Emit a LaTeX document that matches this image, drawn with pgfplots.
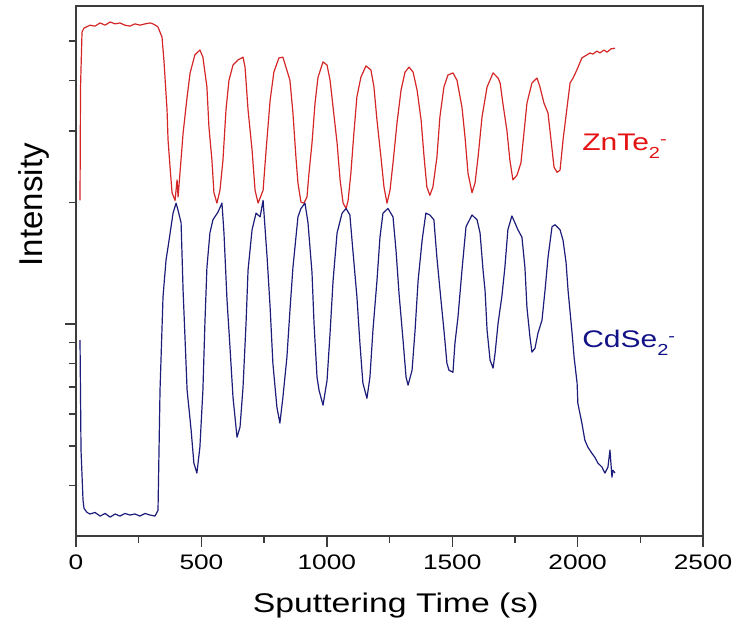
\documentclass[border=0pt]{standalone}
\usepackage{pgfplots}
\pgfplotsset{compat=1.18}
\usepackage{pgfplotstable}
\usepackage{fontspec}
\setmainfont{Liberation Sans}[FakeStretch=1.25]
\newfontfamily\plainsans{Liberation Sans}

\definecolor{znte}{RGB}{212,38,38}
\definecolor{zntetext}{RGB}{228,18,18}
\definecolor{cdse}{RGB}{28,28,122}
\definecolor{cdsetext}{RGB}{18,18,135}
\definecolor{axisgray}{RGB}{60,60,60}

% ion label: subscript 2 followed by the charge
\newcommand{\ion}[1]{#1\raisebox{-4pt}{\fontsize{8}{8}\selectfont 2}\raisebox{3pt}{\fontsize{8}{8}\selectfont -}}

% ZnTe2- signal, time (s) vs intensity (arb., log)
\pgfplotstableread{
t I
16 2.02
18 3.83
24 5.26
32 5.38
40 5.41
56 5.47
76 5.44
96 5.54
116 5.47
136 5.57
156 5.51
175 5.54
195 5.47
215 5.44
235 5.51
255 5.47
275 5.51
295 5.54
307 5.51
323 5.44
327 5.41
343 5.11
351 4.44
363 3.38
367 2.85
375 2.44
383 2.11
395 2.02
403 2.27
407 2.06
427 2.96
443 3.64
455 4.17
474 4.62
494 4.75
506 4.56
522 3.85
530 3.07
542 2.54
550 2.11
562 1.99
574 2.14
586 2.54
598 3.38
610 4.00
626 4.36
646 4.49
666 4.56
674 4.31
686 3.38
702 2.69
714 2.14
726 1.99
746 2.14
758 2.69
774 3.57
789 4.19
809 4.54
825 4.56
853 4.00
865 3.32
877 2.58
885 2.23
897 2.00
909 1.99
921 2.06
929 2.36
941 2.80
953 3.51
965 4.07
985 4.44
1001 4.36
1013 4.00
1025 3.43
1041 2.80
1053 2.27
1065 1.99
1077 1.93
1085 2.02
1096 2.36
1108 2.96
1120 3.64
1136 4.07
1156 4.34
1176 4.24
1188 3.85
1200 3.19
1216 2.58
1228 2.18
1240 1.99
1252 2.14
1264 2.50
1280 3.14
1296 3.78
1312 4.19
1328 4.31
1344 4.19
1360 3.78
1376 3.19
1388 2.58
1399 2.18
1411 2.08
1423 2.18
1439 2.58
1451 3.25
1467 3.85
1483 4.12
1503 4.17
1519 4.00
1539 3.43
1551 2.90
1563 2.36
1579 2.11
1591 2.23
1603 2.58
1619 3.25
1639 3.85
1663 4.17
1683 4.05
1691 3.94
1702 3.51
1718 3.01
1730 2.54
1742 2.27
1758 2.33
1774 2.50
1786 2.96
1798 3.51
1818 3.94
1838 4.05
1850 3.85
1866 3.51
1882 3.32
1894 2.85
1906 2.44
1918 2.37
1930 2.40
1942 2.85
1958 3.43
1970 3.94
1982 4.05
1997 4.24
2017 4.54
2037 4.62
2049 4.67
2061 4.64
2077 4.72
2089 4.67
2105 4.75
2117 4.69
2133 4.78
2149 4.80
}\zntedata

% CdSe2- signal
\pgfplotstableread{
t I
16 0.913
20 0.489
28 0.368
32 0.351
44 0.343
56 0.340
76 0.343
96 0.336
116 0.341
136 0.334
156 0.340
175 0.336
195 0.341
215 0.338
235 0.340
255 0.336
275 0.341
295 0.338
315 0.336
327 0.347
335 0.687
347 1.17
359 1.44
371 1.61
387 1.88
399 1.99
407 1.91
419 1.78
427 1.21
435 0.913
443 0.687
459 0.548
470 0.454
482 0.429
494 0.497
506 0.687
514 1.006
522 1.38
534 1.68
546 1.81
566 1.89
582 1.99
590 1.68
602 1.15
614 0.877
626 0.660
642 0.526
654 0.557
666 0.699
678 1.006
686 1.36
702 1.71
718 1.88
734 1.84
746 2.02
762 1.46
774 1.10
785 0.801
801 0.624
813 0.570
825 0.660
841 0.829
853 1.08
865 1.38
885 1.84
897 1.93
913 1.99
925 1.78
941 1.34
949 1.006
961 0.740
969 0.687
985 0.631
1001 0.727
1013 0.950
1025 1.28
1041 1.68
1061 1.88
1077 1.93
1092 1.86
1104 1.52
1120 1.17
1132 0.898
1144 0.715
1160 0.656
1172 0.740
1184 0.967
1200 1.28
1212 1.64
1224 1.88
1244 1.93
1264 1.84
1276 1.52
1288 1.19
1304 0.913
1316 0.740
1324 0.707
1340 0.770
1352 0.967
1364 1.28
1380 1.61
1395 1.88
1411 1.86
1427 1.81
1439 1.46
1455 1.15
1467 0.967
1479 0.801
1487 0.770
1503 0.761
1511 0.898
1523 1.04
1539 1.36
1555 1.74
1579 1.86
1599 1.81
1611 1.68
1623 1.36
1631 1.21
1639 0.967
1651 0.815
1663 0.779
1671 0.848
1683 1.006
1698 1.17
1710 1.38
1722 1.71
1738 1.85
1750 1.78
1762 1.71
1778 1.64
1790 1.38
1798 1.10
1810 0.929
1818 0.853
1830 0.872
1842 0.950
1858 1.023
1870 1.21
1882 1.46
1898 1.74
1910 1.76
1930 1.71
1942 1.61
1954 1.42
1962 1.21
1978 0.950
1986 0.829
1998 0.715
2001 0.638
2017 0.570
2029 0.517
2041 0.497
2057 0.480
2069 0.469
2081 0.454
2097 0.444
2109 0.429
2121 0.444
2129 0.489
2137 0.419
2141 0.436
2149 0.429
}\cdsedata

\begin{document}
\begin{tikzpicture}
\begin{axis}[
    name=ax,
    scale only axis,
    width=313.5pt, height=265pt,
    xmin=0, xmax=2500,
    ymode=log, ymin=0.3, ymax=6.1,
    xtick={0,500,...,2500},
    minor xtick={250,750,...,2250},
    ytick={1},
    minor ytick={0.4,0.5,0.6,0.7,0.8,0.9,2,3,4,5},
    yticklabels={},
    tick pos=left,
    tick align=outside,
    major tick length=5.5pt,
    minor tick length=3.5pt,
    tick style={axisgray, line width=0.7pt},
    axis line style={axisgray, line width=0.8pt},
    /pgf/number format/assume math mode=true,
    /pgf/number format/1000 sep={},
    xticklabel style={font=\fontsize{10.5}{12}\selectfont, yshift=-0.5pt},
    xlabel={Sputtering Time (s)},
    ylabel={Intensity},
    xlabel style={font=\fontsize{13.5}{16}\selectfont,
        at={(axis description cs:0.51,-0.1434)}, anchor=base},
    ylabel style={font=\plainsans\fontsize{16.5}{19}\selectfont,
        at={(axis description cs:-0.054,0.625)}, anchor=base},
    clip=false,
]
\addplot[znte, line width=0.6pt, line join=round] table[x=t, y=I] {\zntedata};
\addplot[cdse, line width=0.6pt, line join=round] table[x=t, y=I] {\cdsedata};
\node[anchor=base west, inner sep=0pt, text=zntetext, font=\fontsize{12}{14}\selectfont]
    at (axis cs:2017,2.68) {\ion{ZnTe}};
\node[anchor=base west, inner sep=0pt, text=cdsetext, font=\fontsize{12}{14}\selectfont]
    at (axis cs:2017,0.875) {\ion{CdSe}};
\end{axis}
\pgfresetboundingbox
\path ([shift={(-38pt,-50pt)}]ax.south west) rectangle ([shift={(15pt,3pt)}]ax.north east);
\end{tikzpicture}
\end{document}
